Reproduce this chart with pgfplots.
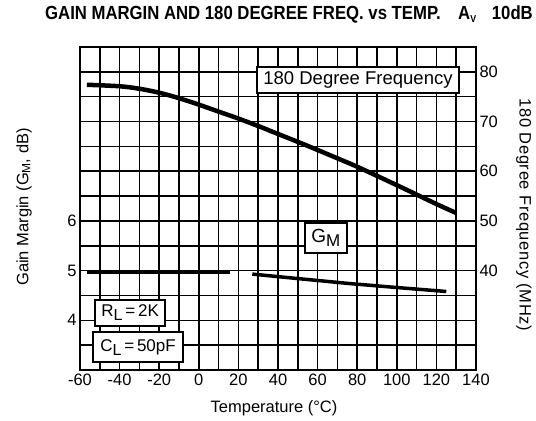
\documentclass[border=0pt]{standalone}
\usepackage{pgfplots}
\pgfplotsset{compat=1.18}
\usepackage{fontspec}
\setmainfont{Liberation Sans}
\newfontfamily\titlefont[FakeStretch=0.88]{Liberation Sans}
\newcommand{\fs}[1]{\fontsize{#1bp}{#1bp}\selectfont}
\newcommand{\sub}[1]{\raisebox{-4bp}{#1}}
\begin{document}
\begin{tikzpicture}[x=1bp,y=1bp]
\path[use as bounding box] (0,0) rectangle (536,420);
\begin{axis}[
  at={(80bp,50bp)}, anchor=south west,
  scale only axis, width=396bp, height=323bp,
  xmin=-60, xmax=140, ymin=3, ymax=9.5,
  xtick={-60,-40,...,140}, minor xtick={-50,-30,...,130},
  ytick={4,5,6}, minor ytick={3.5,4.5,5.5,6.5,7,7.5,8,8.5,9},
  grid=both,
  major grid style={black,line width=1.6bp},
  minor grid style={black,line width=1.6bp},
  major tick length=0pt, minor tick length=0pt,
  axis line style={black,line width=2.2bp},
  ticklabel style={font=\fs{16.5}},
  /pgf/number format/assume math mode=true,
  clip=false,
]
\addplot[black, line width=3.5bp] coordinates {(-56.5,4.97) (15.8,4.97)};
\addplot[black, line width=3.5bp] coordinates {(27,4.93) (50,4.84) (76,4.74) (100,4.66) (125,4.58)};
\node[draw=black, line width=1.5bp, fill=white, inner sep=0pt, minimum width=202bp, minimum height=26bp, font=\fs{18.5}] at (axis cs:80.4,8.84) {180 Degree Frequency};
\node[draw=black, line width=1.5bp, fill=white, inner sep=0pt, minimum width=42bp, minimum height=30bp, font=\fs{19}] at (axis cs:64.2,5.66) {G\sub{\fs{17}M}};
\node[draw=black, line width=1.5bp, fill=white, inner sep=0pt, minimum width=70bp, minimum height=26bp, font=\fs{17}] at (axis cs:-34.7,4.147) {R\sub{\fs{16}L}\,=\,2K};
\node[draw=black, line width=1.5bp, fill=white, inner sep=0pt, minimum width=90bp, minimum height=30bp, font=\fs{17}] at (axis cs:-30.7,3.46) {C\sub{\fs{16}L}\,=\,50pF};
\end{axis}
\begin{axis}[
  at={(80bp,50bp)}, anchor=south west,
  scale only axis, width=396bp, height=323bp,
  xmin=-60, xmax=140, ymin=20, ymax=85,
  axis x line=none, axis y line*=right,
  axis line style={-, black, line width=2.2bp},
  ytick={40,50,...,80},
  major tick length=0pt,
  ticklabel style={font=\fs{16.5}},
  /pgf/number format/assume math mode=true,
]
\addplot[black, line width=4.5bp, smooth, tension=0.5] coordinates {
(-56.5,77.4) (-40,77.1) (-30,76.6) (-20,75.8) (-10,74.7) (0,73.4) (10,72.0) (20,70.6) (30,69.1) (40,67.5) (55,65.1) (70,62.6) (80,60.9) (100,57.2) (120,53.4) (130,51.6)};
\end{axis}
\node[anchor=base west, font=\titlefont\fs{19}\bfseries, inner sep=0pt] at (45,400) {GAIN MARGIN AND 180 DEGREE FREQ. vs TEMP.};
\node[anchor=base west, font=\titlefont\fs{19}\bfseries, inner sep=0pt] at (458,400) {A\raisebox{-3bp}{\fs{10}V}};
\node[anchor=base east, font=\titlefont\fs{19}\bfseries, inner sep=0pt] at (533,400) {10dB};
\node[font=\fs{16.5}, inner sep=0pt] at (274,12) {Temperature (°C)};
\node[font=\fs{16.5}, rotate=90, inner sep=0pt] at (24,213) {Gain Margin (G\raisebox{-2bp}{\fs{12}M}, dB)};
\node[font=\fs{16.5}, rotate=-90, inner sep=0pt] at (524,205) {\addfontfeatures{LetterSpace=4}180 Degree Frequency (MHz)};
\end{tikzpicture}
\end{document}
